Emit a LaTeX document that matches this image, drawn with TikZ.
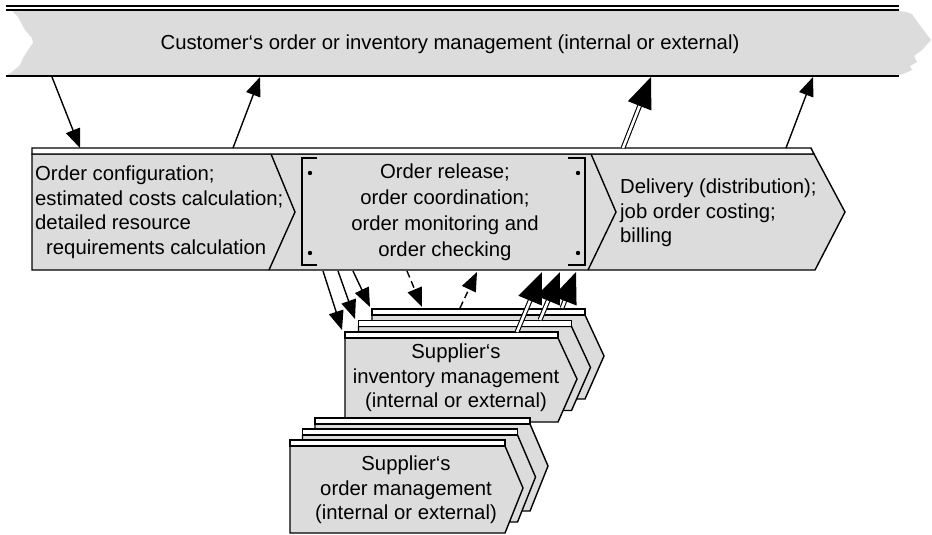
\documentclass[tikz,border=0pt]{standalone}
\usepackage{fontspec}
\setsansfont{Liberation Sans}
\usepackage{tikz}
\usetikzlibrary{positioning,arrows.meta}
\definecolor{fnfill}{HTML}{DCDCDC}

\tikzset{
  fnbox/.style={draw=black,fill=fnfill,line width=1.4pt,line join=miter},
  fnstrip/.style={draw=black,fill=white,line width=1.4pt},
  fnline/.style={draw=black,line width=1.4pt},
  fntext/.style={font=\sffamily\fontsize{20.3}{24.5}\selectfont,inner sep=0pt},
  flow/.style={line width=1.4pt,-{Triangle[length=19pt,width=15pt]}},
  dflow/.style={flow,dash pattern=on 7pt off 4pt},
  bigflow/.style={line width=1.1pt,double,double distance=2.6pt,-{Triangle[length=31pt,width=25pt]}},
}

\begin{document}
\begin{tikzpicture}[x=1pt,y=-1pt]
\useasboundingbox (0,0) rectangle (932,535);

% customer band (torn left edge, jagged arrow right)
\fill[fnfill] (12,11) -- (18,17) -- (25,30) -- (32,38) -- (33,43) -- (28,50)
  -- (23,58) -- (20,65) -- (12,72) -- (7,75) -- (899,75) -- (903,74) -- (912,70)
  -- (910,66) -- (917,62) -- (914,56) -- (922,50) -- (931,40) -- (922,28)
  -- (916,20) -- (912,14) -- (906,12) -- (899,11) -- cycle;
\draw[fnline] (6,6) -- (899,6);
\draw[fnline] (6,10) -- (899,10);
\draw[fnline] (6,76) -- (899,76);
\node[fntext] (cust) at (450,44)
  {Customer‘s order or inventory management (internal or external)};

% value chain
\filldraw[fnbox] (32,154) -- (814,154) -- (845,212) -- (815,270) -- (32,270) -- cycle;
\filldraw[fnstrip] (32,148) -- (811,148) -- (814,154) -- (32,154) -- cycle;
\draw[fnline] (271,154) -- (295,212) -- (269,270);
\draw[fnline] (591,154) -- (616,212) -- (588,270);

% order release brackets
\draw[fnline] (317,158) -- (302,158) -- (302,265) -- (317,265);
\draw[fnline] (568,158) -- (585,158) -- (585,265) -- (568,265);
\foreach \x/\y in {310/173,310/253,578/173,578/253}
  \fill (\x,\y) circle (2.2pt);

\node[fntext,align=left,anchor=west] (config) at (35,212)
  {Order configuration;\\estimated costs calculation;\\detailed resource\\
   \hspace*{11pt}requirements calculation};
\node[fntext,align=center,font=\sffamily\fontsize{20.3}{26}\selectfont] (release) at (445,212)
  {Order release;\\order coordination;\\order monitoring and\\order checking};
\node[fntext,align=left,anchor=west] (delivery) at (620,213)
  {Delivery (distribution);\\job order costing;\\billing};

% supplier's inventory management (stack)
\foreach \dx/\dy in {27/-23,13.5/-11.5,0/0}{
  \begin{scope}[shift={(\dx,\dy)}]
    \filldraw[fnbox] (345,338) -- (558,338) -- (577,379) -- (558,422) -- (345,422) -- cycle;
    \filldraw[fnstrip] (345,332) rectangle (558,338);
  \end{scope}
}
\node[fntext,align=center] (supinv) at (456,378)
  {Supplier‘s\\inventory management\\(internal or external)};

% supplier's order management (stack)
\foreach \dx/\dy in {25/-22,12.5/-11,0/0}{
  \begin{scope}[shift={(\dx,\dy)}]
    \filldraw[fnbox] (290,446) -- (505,446) -- (523,488) -- (505,533) -- (290,533) -- cycle;
    \filldraw[fnstrip] (290,440) rectangle (505,446);
  \end{scope}
}
\node[fntext,align=center] (supord) at (406,490)
  {Supplier‘s\\order management\\(internal or external)};

% ports
\coordinate (cu1) at (52,77);  \coordinate (vc1) at (80,148);
\coordinate (cu2) at (260,77); \coordinate (vc2) at (233,148);
\coordinate (cu3) at (651,77); \coordinate (vc3) at (623,148);
\coordinate (cu4) at (813,77); \coordinate (vc4) at (786,148);
\coordinate (rl1) at (323,271); \coordinate (si1) at (342,330);
\coordinate (rl2) at (338,271); \coordinate (si2) at (355,319);
\coordinate (rl3) at (353,271); \coordinate (si3) at (370,307);
\coordinate (rl4) at (407,271); \coordinate (si4) at (422,307);
\coordinate (rl5) at (477,272); \coordinate (si5) at (460,308);
\coordinate (rl6) at (542,272); \coordinate (si6) at (517,332);
\coordinate (rl7) at (560,272); \coordinate (si7) at (540,320);
\coordinate (rl8) at (576,272); \coordinate (si8) at (562,308);

% flows
\draw[flow] (cu1) -- (vc1);
\draw[flow] (vc2) -- (cu2);
\draw[bigflow] (vc3) -- (cu3);
\draw[flow] (vc4) -- (cu4);
\foreach \i in {1,2,3}
  \draw[flow] (rl\i) -- (si\i);
\draw[dflow] (rl4) -- (si4);
\draw[dflow] (si5) -- (rl5);
\foreach \i in {6,7,8}
  \draw[bigflow] (si\i) -- (rl\i);

\end{tikzpicture}
\end{document}
